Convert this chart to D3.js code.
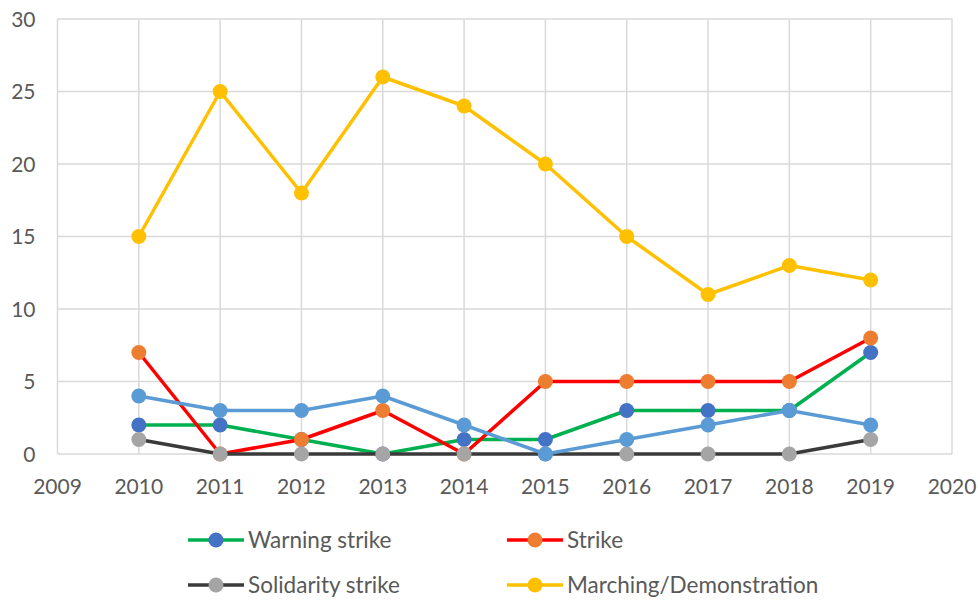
<!DOCTYPE html>
<html>
<head>
<meta charset="utf-8">
<script src="https://cdn.jsdelivr.net/npm/d3@7"></script>
<style>
  body { margin: 0; background: #fff; }
  text { font-family: Lato, "Open Sans", sans-serif; fill: #595959; }
</style>
</head>
<body>
<svg id="chart"></svg>
<script>
(function () {
    const W = 978;
    const H = 601;
    const margin = { top: 19, right: 26, bottom: 147, left: 57.5 };

    const years = [2010, 2011, 2012, 2013, 2014, 2015, 2016, 2017, 2018, 2019];
    const xTicks = [2009, 2010, 2011, 2012, 2013, 2014, 2015, 2016, 2017, 2018, 2019, 2020];
    const yTicks = [0, 5, 10, 15, 20, 25, 30];

    const warningStrike = [2, 2, 1, 0, 1, 1, 3, 3, 3, 7];
    const strike = [7, 0, 1, 3, 0, 5, 5, 5, 5, 8];
    const solidarityStrike = [1, 0, 0, 0, 0, 0, 0, 0, 0, 1];
    const marching = [15, 25, 18, 26, 24, 20, 15, 11, 13, 12];
    const unlabeled = [4, 3, 3, 4, 2, 0, 1, 2, 3, 2];

    const series = [
        { name: "Warning strike", values: warningStrike, line: "#00B050", marker: "#4472C4" },
        { name: "Strike", values: strike, line: "#FF0000", marker: "#ED7D31" },
        { name: "Solidarity strike", values: solidarityStrike, line: "#3A3A3A", marker: "#A5A5A5" },
        { name: "Marching/Demonstration", values: marching, line: "#FFC000", marker: "#FFC000" },
        { name: null, values: unlabeled, line: "#5B9BD5", marker: "#5B9BD5" }
    ];

    const svg = d3.select("#chart")
        .attr("width", W)
        .attr("height", H);

    const x = d3.scaleLinear()
        .domain([2009, 2020])
        .range([margin.left, W - margin.right]);

    const y = d3.scaleLinear()
        .domain([0, 30])
        .range([H - margin.bottom, margin.top]);

    // Gridlines
    svg.append("g")
        .selectAll("line")
        .data(yTicks)
        .enter().append("line")
        .attr("x1", x(2009)).attr("x2", x(2020))
        .attr("y1", d => y(d)).attr("y2", d => y(d))
        .attr("stroke", "#D9D9D9")
        .attr("stroke-width", 1.5);

    svg.append("g")
        .selectAll("line")
        .data(xTicks)
        .enter().append("line")
        .attr("x1", d => x(d)).attr("x2", d => x(d))
        .attr("y1", y(0)).attr("y2", y(30))
        .attr("stroke", "#D9D9D9")
        .attr("stroke-width", 1.5);

    // Axis labels
    svg.append("g")
        .selectAll("text")
        .data(xTicks)
        .enter().append("text")
        .attr("x", d => x(d))
        .attr("y", y(0) + 40)
        .attr("text-anchor", "middle")
        .attr("font-size", 21)
        .text(d => d);

    svg.append("g")
        .selectAll("text")
        .data(yTicks)
        .enter().append("text")
        .attr("x", margin.left - 22)
        .attr("y", d => y(d) + 7.5)
        .attr("text-anchor", "end")
        .attr("font-size", 21)
        .text(d => d);

    const line = d3.line()
        .x((d, i) => x(years[i]))
        .y(d => y(d));

    series.forEach(s => {
        const g = svg.append("g");
        g.append("path")
            .datum(s.values)
            .attr("fill", "none")
            .attr("stroke", s.line)
            .attr("stroke-width", 3.5)
            .attr("stroke-linejoin", "round")
            .attr("d", line);
        g.selectAll("circle")
            .data(s.values)
            .enter().append("circle")
            .attr("cx", (d, i) => x(years[i]))
            .attr("cy", d => y(d))
            .attr("r", 7.5)
            .attr("fill", s.marker);
    });

    // Legend
    const legendPos = [
        { x: 188, y: 540 },
        { x: 507, y: 540 },
        { x: 188, y: 585 },
        { x: 507, y: 585 }
    ];
    series.filter(s => s.name).forEach((s, i) => {
        const p = legendPos[i];
        const g = svg.append("g").attr("transform", `translate(${p.x},${p.y})`);
        g.append("line")
            .attr("x1", 0).attr("x2", 56)
            .attr("stroke", s.line)
            .attr("stroke-width", 3.5);
        g.append("circle")
            .attr("cx", 28)
            .attr("r", 7.5)
            .attr("fill", s.marker);
        g.append("text")
            .attr("x", 60)
            .attr("y", 8)
            .attr("font-size", 22.5)
            .text(s.name);
    });
})();
</script>
</body>
</html>
